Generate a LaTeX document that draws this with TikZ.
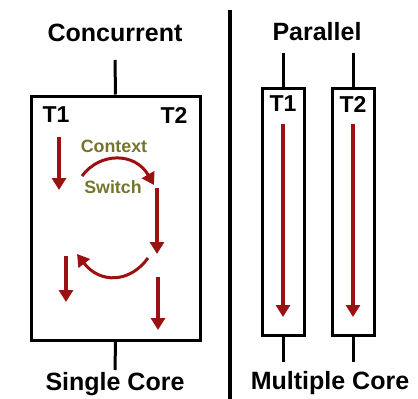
\documentclass[tikz,border=0pt]{standalone}
\usepackage{fontspec}
\setmainfont{Liberation Sans}
\usetikzlibrary{arrows.meta}
\definecolor{thread}{HTML}{9B1010}
\definecolor{olivetxt}{HTML}{76752E}
\begin{document}
\begin{tikzpicture}[x=1pt,y=-1pt,
  title/.style={font=\fontsize{25}{29}\selectfont\bfseries, inner sep=0pt},
  tlabel/.style={font=\fontsize{23}{26}\selectfont\bfseries, inner sep=0pt},
  cslabel/.style={font=\fontsize{17.8}{20}\selectfont\bfseries, text=olivetxt, inner sep=0pt},
  core/.style={draw=black, line width=3pt, inner sep=0pt},
  wire/.style={draw=black, line width=3pt},
  flow/.style={draw=thread, line width=3.5pt, -{Triangle[width=14pt,length=12pt]}},
  switch/.style={draw=thread, line width=3pt, -{Triangle[width=14pt,length=12pt]}}]
\useasboundingbox (0,0) rectangle (418,399);

% divider between the two halves
\coordinate (divT) at (230,10);
\coordinate (divB) at (230,399);
\draw[line width=4pt] (divT) -- (divB);

% ---- concurrent execution on one core ----
\node[title] (conc) at (115,33) {Concurrent};
\node[core, minimum width=169pt, minimum height=244pt] (single) at (115.5,218) {};
\coordinate (sTop) at (115,60);
\coordinate (sBot) at (115,370);
\draw[wire] (sTop) -- (single.north);
\draw[wire] (single.south) -- (sBot);
\node[title] (score) at (115,384) {Single Core};

\node[tlabel] (st1) at (56,115) {T1};
\node[tlabel] (st2) at (174,115) {T2};
\node[cslabel] (ctx) at (114,146) {Context};
\node[cslabel] (sw) at (113,187) {Switch};

\coordinate (a1s) at (59,137);  \coordinate (a1e) at (59,190);
\coordinate (a2s) at (157,188); \coordinate (a2e) at (157,254);
\coordinate (a3s) at (66,256);  \coordinate (a3e) at (66,302);
\coordinate (a4s) at (158,277); \coordinate (a4e) at (158,330);
\draw[flow] (a1s) -- (a1e);
\draw[flow] (a2s) -- (a2e);
\draw[flow] (a3s) -- (a3e);
\draw[flow] (a4s) -- (a4e);

\coordinate (c1s) at (82,176); \coordinate (c1e) at (154,185);
\draw[switch] (c1s) .. controls (100,152) and (135,152) .. (c1e);
\coordinate (c2s) at (148,258); \coordinate (c2e) at (77,254);
\draw[switch] (c2s) .. controls (130,283) and (100,284) .. (c2e);

% ---- parallel execution on two cores ----
\node[title] (par) at (317,32) {Parallel};
\node[core, minimum width=42pt, minimum height=247pt] (p1) at (283,211.5) {};
\node[core, minimum width=42pt, minimum height=247pt] (p2) at (353,211.5) {};
\coordinate (p1T) at (283,53); \coordinate (p1B) at (283,362);
\coordinate (p2T) at (353,53); \coordinate (p2B) at (353,362);
\draw[wire] (p1T) -- (p1.north);
\draw[wire] (p1.south) -- (p1B);
\draw[wire] (p2T) -- (p2.north);
\draw[wire] (p2.south) -- (p2B);
\node[tlabel] (pt1) at (283,104) {T1};
\node[tlabel] (pt2) at (353,104) {T2};
\coordinate (b1s) at (283,124); \coordinate (b1e) at (283,317);
\coordinate (b2s) at (353,124); \coordinate (b2e) at (353,317);
\draw[flow] (b1s) -- (b1e);
\draw[flow] (b2s) -- (b2e);
\node[title] (mcore) at (330,383) {Multiple Core};
\end{tikzpicture}
\end{document}
